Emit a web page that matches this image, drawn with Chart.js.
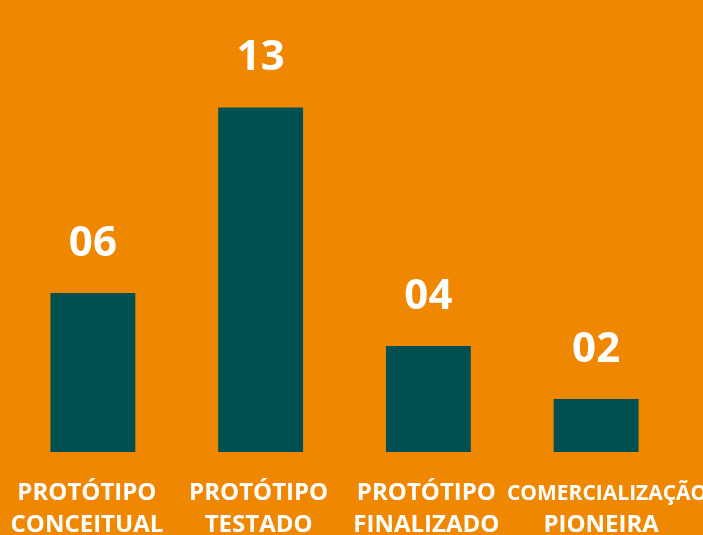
<!DOCTYPE html>
<html lang="pt">
<head>
    <meta charset="UTF-8">
    <title>Protótipos</title>
    <script src="https://cdn.jsdelivr.net/npm/chart.js@4.4.1/dist/chart.umd.min.js"></script>
    <style>
        body { margin: 0; background: #ef8800; }
        canvas { display: block; }
    </style>
</head>
<body>

<canvas id="myChart" width="703" height="535"></canvas>

<script>

    // data
    var categories = [["PROTÓTIPO", "CONCEITUAL"], ["PROTÓTIPO", "TESTADO"], ["PROTÓTIPO", "FINALIZADO"], ["COMERCIALIZAÇÃO", "PIONEIRA"]];
    var values = [6, 13, 4, 2];
    var valueLabels = ["06", "13", "04", "02"];

    var orange = "#ef8800";
    var teal = "#004f51";

    // the text boxes in the original sit a bit off the bar centres
    var labelShift = [-6, -2, -2, 5];

    // draws the big numbers over the bars and the two-line category names
    var labelPlugin = {
        id: "labels",
        afterDatasetsDraw: function (chart) {
            var ctx = chart.ctx;
            var meta = chart.getDatasetMeta(0);
            ctx.save();
            ctx.fillStyle = "#ffffff";
            ctx.textAlign = "center";

            ctx.textBaseline = "middle";
            ctx.font = "bold 42px 'Open Sans'";
            meta.data.forEach(function (bar, i) {
                ctx.fillText(valueLabels[i], bar.x, bar.y - 49);
            });

            ctx.textBaseline = "alphabetic";
            meta.data.forEach(function (bar, i) {
                var lines = categories[i];
                lines.forEach(function (line, j) {
                    // long single words get a smaller font, and it spills past the edge like the original
                    var long = line.length > 12;
                    ctx.font = "bold " + (long ? 21 : 24) + "px 'Open Sans'";
                    ctx.fillText(line, bar.x + labelShift[i] + (long ? 6 : 0), 500 + j * 32);
                });
            });
            ctx.restore();
        }
    };

    var ctx = document.getElementById("myChart");

    var chart = new Chart(ctx, {
        type: "bar",
        data: {
            labels: categories,
            datasets: [{
                data: values,
                backgroundColor: teal,
                borderWidth: 0,
                barPercentage: 0.506,
                categoryPercentage: 1
            }]
        },
        options: {
            responsive: false,
            animation: false,
            layout: {
                padding: { top: 28, bottom: 83, left: 9, right: 23 }
            },
            plugins: {
                legend: { display: false },
                tooltip: { enabled: false }
            },
            scales: {
                x: { display: false },
                y: { display: false, min: 0, max: 16 }
            }
        },
        plugins: [labelPlugin]
    });

</script>

</body>
</html>
